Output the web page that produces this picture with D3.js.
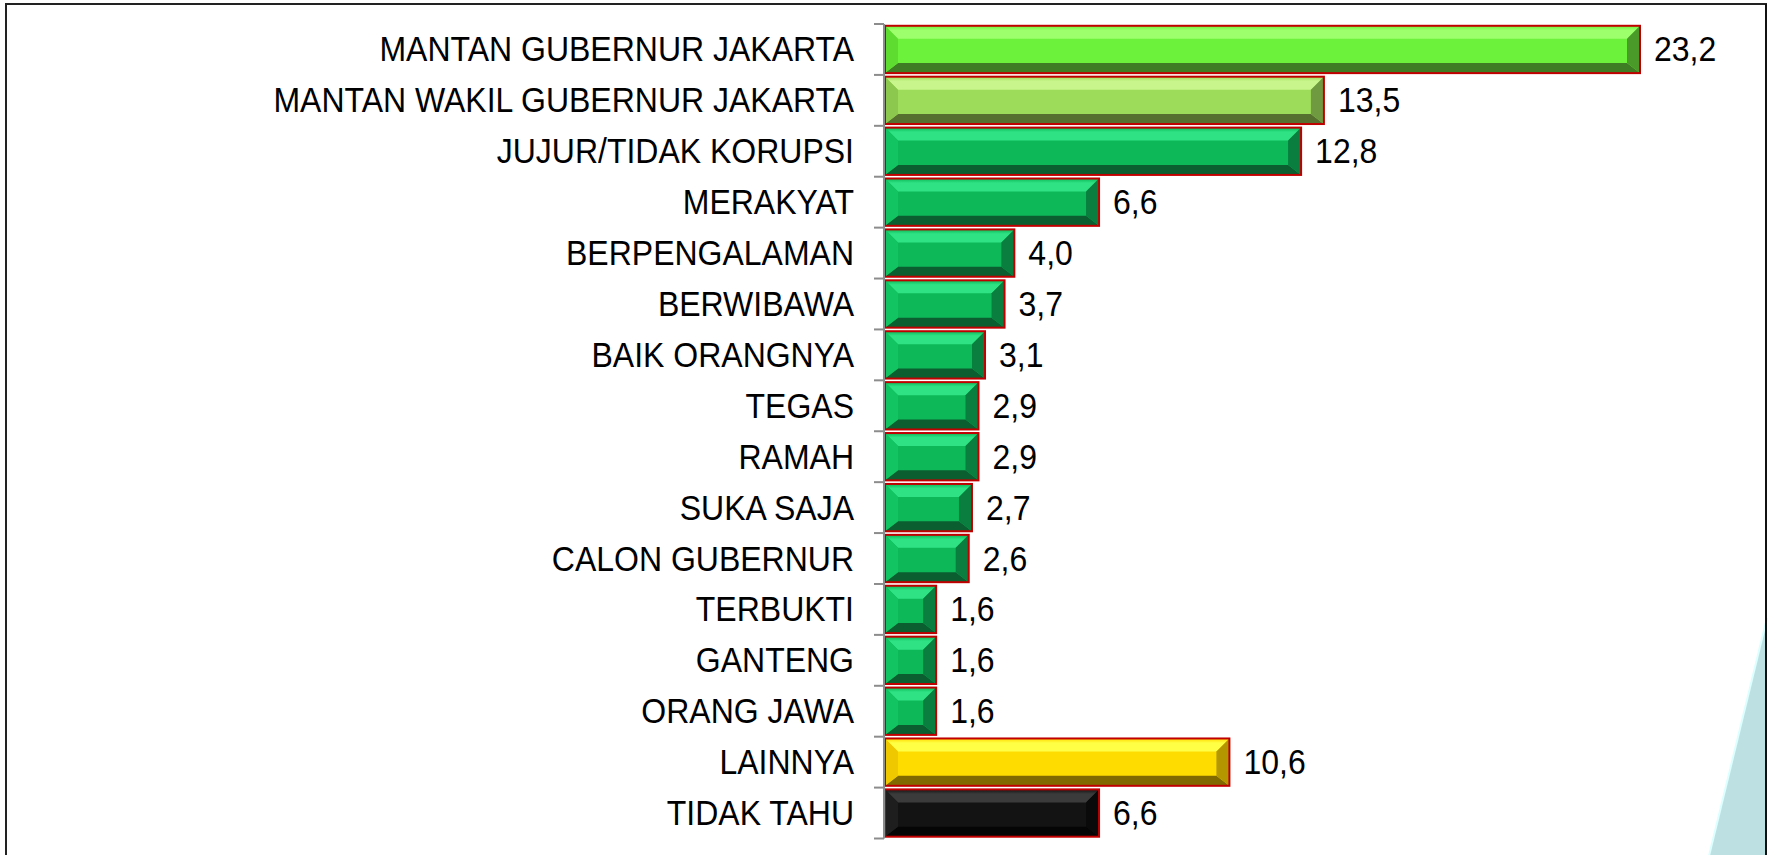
<!DOCTYPE html>
<html>
<head>
<meta charset="utf-8">
<script src="https://cdn.jsdelivr.net/npm/d3@7"></script>
<style>
  html, body { margin: 0; padding: 0; background: #fff; }
  svg { display: block; }
  text { font-family: "Liberation Sans", Arial, sans-serif; }
</style>
</head>
<body>
<svg id="chart" width="1769" height="855"></svg>
<script>
const categories = [
  "MANTAN GUBERNUR JAKARTA",
  "MANTAN WAKIL GUBERNUR JAKARTA",
  "JUJUR/TIDAK KORUPSI",
  "MERAKYAT",
  "BERPENGALAMAN",
  "BERWIBAWA",
  "BAIK ORANGNYA",
  "TEGAS",
  "RAMAH",
  "SUKA SAJA",
  "CALON GUBERNUR",
  "TERBUKTI",
  "GANTENG",
  "ORANG JAWA",
  "LAINNYA",
  "TIDAK TAHU"
];
const values = [23.2, 13.5, 12.8, 6.6, 4.0, 3.7, 3.1, 2.9, 2.9, 2.7, 2.6, 1.6, 1.6, 1.6, 10.6, 6.6];
const colorKeys = ["lime", "olive", "green", "green", "green", "green", "green", "green", "green",
                   "green", "green", "green", "green", "green", "yellow", "black"];

const palettes = {
  lime:   { face: "#6cf23a", top: "#9dff6c", bottom: "#3e7d24", left: "#5fdc30", right: "#4a9a2a" },
  olive:  { face: "#9ddb5a", top: "#c8f68c", bottom: "#56712f", left: "#8cc84e", right: "#6f9a40" },
  green:  { face: "#0cb858", top: "#2fe384", bottom: "#0b5e30", left: "#13c462", right: "#0a7e3e" },
  yellow: { face: "#ffdc00", top: "#ffff45", bottom: "#806a00", left: "#f0c800", right: "#b39600" },
  black:  { face: "#131313", top: "#3b3b3b", bottom: "#050505", left: "#1e1e1e", right: "#0a0a0a" }
};

const svg = d3.select("#chart");
const defs = svg.append("defs");

// frame
svg.append("rect")
  .attr("x", 6).attr("y", 4)
  .attr("width", 1760).attr("height", 870)
  .attr("fill", "#fff")
  .attr("stroke", "#222").attr("stroke-width", 2);

// decorative triangle bottom-right
svg.append("path")
  .attr("d", "M1767,618 L1767,856 L1709,856 Z")
  .attr("fill", "#bde0e3");
svg.append("line")
  .attr("x1", 1767).attr("y1", 618).attr("x2", 1709).attr("y2", 856)
  .attr("stroke", "#dcffff").attr("stroke-width", 2);
svg.append("line")
  .attr("x1", 1766).attr("y1", 4).attr("x2", 1766).attr("y2", 855)
  .attr("stroke", "#111").attr("stroke-width", 2);

const axisX = 884;
const x = d3.scaleLinear().domain([0, 23.2]).range([axisX, 1640]);
const y = d3.scaleBand().domain(categories).range([24, 838.5])
  .paddingInner(0.07).paddingOuter(0.035);

// top bevel gradients
Object.entries(palettes).forEach(([k, p]) => {
  const lg = defs.append("linearGradient").attr("id", "top-" + k)
    .attr("x1", 0).attr("y1", 0).attr("x2", 0).attr("y2", 1);
  lg.append("stop").attr("offset", 0).attr("stop-color", p.face);
  lg.append("stop").attr("offset", 0.35).attr("stop-color", p.top);
  lg.append("stop").attr("offset", 1).attr("stop-color", p.top);
});

const g = svg.append("g");
const stretch = "scale(1,1.07)";

const bw = 13, bh = 10;
values.forEach((v, i) => {
  const cat = categories[i];
  const p = palettes[colorKeys[i]];
  const x0 = x(0) + 1, x1 = x(v);
  const y0 = y(cat), y1 = y(cat) + y.bandwidth();
  const w = x1 - x0;
  const bx = Math.min(bw, w / 3);
  const grp = g.append("g");
  grp.append("rect").attr("x", x0).attr("y", y0).attr("width", w).attr("height", y1 - y0)
    .attr("fill", p.face);
  const poly = (pts, fill) => grp.append("polygon")
    .attr("points", pts.map(d => d.join(",")).join(" ")).attr("fill", fill);
  poly([[x0, y0], [x1, y0], [x1 - bx, y0 + bh + 3], [x0 + bx, y0 + bh + 3]], `url(#top-${colorKeys[i]})`);
  poly([[x0, y1], [x1, y1], [x1 - bx, y1 - bh], [x0 + bx, y1 - bh]], p.bottom);
  poly([[x0, y0], [x0 + bx, y0 + bh + 3], [x0 + bx, y1 - bh], [x0, y1]], p.left);
  poly([[x1, y0], [x1 - bx, y0 + bh + 3], [x1 - bx, y1 - bh], [x1, y1]], p.right);
  grp.append("rect").attr("x", x0).attr("y", y0).attr("width", w).attr("height", y1 - y0)
    .attr("fill", "none").attr("stroke", "#c00000").attr("stroke-width", 2);

  g.append("g")
    .attr("transform", `translate(${x1 + 14},${y0 + y.bandwidth() / 2})`)
    .append("text")
    .attr("transform", stretch)
    .attr("dy", "0.35em")
    .attr("font-size", 32)
    .attr("fill", "#000")
    .text(d3.format(".1f")(v).replace(".", ","));
});

// category axis
const axis = d3.axisLeft(y).tickSize(0).tickPadding(30);
const ag = svg.append("g").attr("transform", `translate(${axisX},0)`).call(axis);
ag.select(".domain").remove();
ag.selectAll("text").attr("font-size", 32).attr("fill", "#000")
  .attr("font-family", "'Liberation Sans', Arial, sans-serif")
  .attr("dy", "0.35em")
  .attr("transform", stretch);

// axis line and boundary ticks
const bounds = categories.map(c => y(c) - y.step() * y.paddingInner() / 2);
bounds.push(y(categories[categories.length - 1]) + y.bandwidth() + y.step() * y.paddingInner() / 2);
svg.append("line").attr("x1", axisX).attr("x2", axisX)
  .attr("y1", bounds[0]).attr("y2", bounds[bounds.length - 1])
  .attr("stroke", "#8c8c8c").attr("stroke-width", 2);
svg.selectAll(".btick").data(bounds).enter().append("line")
  .attr("x1", axisX - 10).attr("x2", axisX)
  .attr("y1", d => d).attr("y2", d => d)
  .attr("stroke", "#8c8c8c").attr("stroke-width", 2);
</script>
</body>
</html>
